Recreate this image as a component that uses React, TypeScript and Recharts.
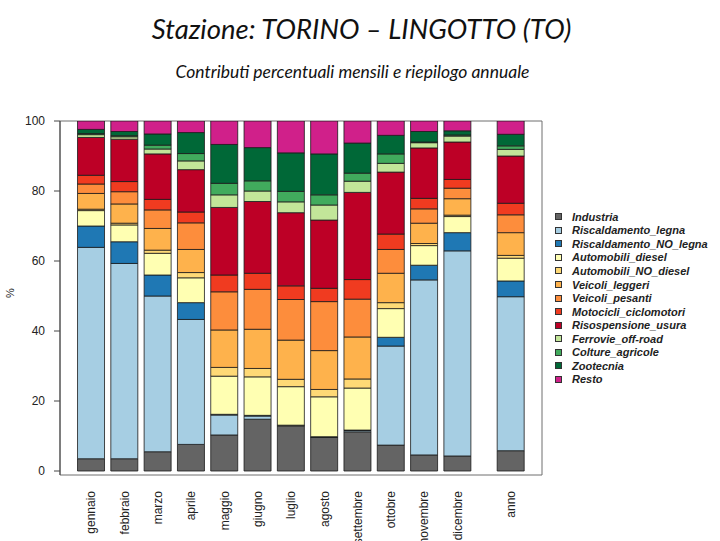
import { BarChart, Bar, XAxis, YAxis, Legend, ReferenceArea } from 'recharts';

const CATEGORIES = [
  'gennaio', 'febbraio', 'marzo', 'aprile', 'maggio', 'giugno', 'luglio',
  'agosto', 'settembre', 'ottobre', 'novembre', 'dicembre', 'anno',
];
// gap before each bar, in bar widths (R barplot "space")
const SPACES = [0.25, 0.25, 0.25, 0.25, 0.25, 0.25, 0.25, 0.25, 0.25, 0.25, 0.25, 0.25, 1];

const INDUSTRIA = [3.5, 3.5, 5.5, 7.6, 10.3, 14.8, 12.9, 9.6, 11.2, 7.4, 4.6, 4.3, 5.8];
const RISC_LEGNA = [60.4, 55.8, 44.5, 35.7, 5.7, 0.9, 0.1, 0.1, 0.4, 28.3, 50.0, 58.6, 44.0];
const RISC_NO_LEGNA = [6.1, 6.2, 6.0, 4.8, 0.2, 0.2, 0.1, 0.1, 0.1, 2.5, 4.2, 5.2, 4.5];
const AUTO_DIESEL = [4.4, 4.8, 6.2, 7.1, 10.9, 11.0, 11.0, 11.4, 12.0, 8.2, 5.6, 4.6, 6.5];
const AUTO_NO_DIESEL = [0.4, 0.5, 0.9, 1.5, 2.5, 2.4, 2.1, 2.1, 2.6, 1.7, 0.6, 0.4, 0.8];
const VEICOLI_LEGGERI = [4.5, 5.5, 6.2, 6.6, 10.7, 11.2, 11.2, 11.1, 12.0, 8.4, 5.8, 4.7, 6.5];
const VEICOLI_PESANTI = [2.7, 3.5, 5.3, 7.6, 10.9, 11.4, 11.6, 14.0, 10.8, 6.8, 4.1, 3.0, 5.1];
const MOTOCICLI = [2.5, 2.9, 3.0, 3.1, 4.8, 4.6, 3.9, 3.8, 5.6, 4.4, 3.0, 2.5, 3.3];
const RISOSPENSIONE = [10.8, 12.1, 13.0, 12.1, 19.3, 20.5, 20.9, 19.5, 24.9, 17.7, 14.4, 10.7, 13.5];
const FERROVIE = [0.8, 0.7, 1.4, 2.5, 3.6, 3.0, 3.1, 4.3, 3.2, 2.5, 1.5, 1.7, 1.9];
const COLTURE = [0.3, 0.3, 1.1, 2.1, 3.3, 2.9, 3.0, 2.9, 2.3, 2.7, 0.2, 0.3, 1.0];
const ZOOTECNIA = [1.2, 1.2, 3.2, 6.0, 11.1, 9.5, 11.0, 11.7, 8.6, 5.3, 3.0, 1.2, 3.3];
const RESTO = [2.4, 3.0, 3.7, 3.3, 6.7, 7.6, 9.1, 9.4, 6.4, 4.1, 3.0, 2.8, 3.8];

const Y_TICKS = [0, 20, 40, 60, 80, 100];

const SERIES = [
  { key: 'Industria', values: INDUSTRIA, color: '#646464' },
  { key: 'Riscaldamento_legna', values: RISC_LEGNA, color: '#a6cee3' },
  { key: 'Riscaldamento_NO_legna', values: RISC_NO_LEGNA, color: '#1f78b4' },
  { key: 'Automobili_diesel', values: AUTO_DIESEL, color: '#ffffb2' },
  { key: 'Automobili_NO_diesel', values: AUTO_NO_DIESEL, color: '#fed976' },
  { key: 'Veicoli_leggeri', values: VEICOLI_LEGGERI, color: '#feb24c' },
  { key: 'Veicoli_pesanti', values: VEICOLI_PESANTI, color: '#fd8d3c' },
  { key: 'Motocicli_ciclomotori', values: MOTOCICLI, color: '#f03b20' },
  { key: 'Risospensione_usura', values: RISOSPENSIONE, color: '#bd0026' },
  { key: 'Ferrovie_off-road', values: FERROVIE, color: '#c2e699' },
  { key: 'Colture_agricole', values: COLTURE, color: '#41ab5d' },
  { key: 'Zootecnia', values: ZOOTECNIA, color: '#006837' },
  { key: 'Resto', values: RESTO, color: '#d0208a' },
];

// bar centres along the x axis, as R's barplot lays them out
const POSITIONS: number[] = [];
{
  let edge = 0;
  SPACES.forEach((s) => {
    edge += s;
    POSITIONS.push(edge + 0.5);
    edge += 1;
  });
}

const data = CATEGORIES.map((cat, i) => {
  const row: Record<string, number | string> = { name: cat, pos: POSITIONS[i] };
  SERIES.forEach((s) => {
    row[s.key] = s.values[i];
  });
  return row;
});

const X_DOMAIN = [-0.42, 17.67];
const FONT = '"Liberation Sans", Arial, Helvetica, sans-serif';

function MonthTick({ x, y, payload }: { x?: number; y?: number; payload?: { value: number } }) {
  const idx = POSITIONS.indexOf(payload?.value as number);
  return (
    <text
      transform={`translate(${x},${(y ?? 0) + 8}) rotate(-90)`}
      textAnchor="end"
      dy="0.35em"
      fontSize={12}
      fill="#222"
      fontFamily={FONT}
    >
      {CATEGORIES[idx]}
    </text>
  );
}

function LegendBox({ payload }: { payload?: Array<{ value: string; color: string }> }) {
  // keep the stacking order (Industria on top), not the library's sorted order
  const byName = new Map((payload ?? []).map((p) => [p.value, p.color]));
  return (
    <div style={{ display: 'flex', flexDirection: 'column' }}>
      {SERIES.map((s) => (
        <div key={s.key} style={{ height: 13.56, display: 'flex', alignItems: 'center' }}>
          <span style={{
            width: 7,
            height: 7,
            boxSizing: 'border-box',
            background: byName.get(s.key) ?? s.color,
            border: '1px solid #333',
            marginRight: 10,
            flex: 'none',
          }} />
          <span style={{
            fontFamily: FONT,
            fontSize: 11,
            fontWeight: 700,
            fontStyle: 'italic',
            color: '#222',
            whiteSpace: 'nowrap',
          }}>
            {s.key}
          </span>
        </div>
      ))}
    </div>
  );
}

export default function App() {
  return (
    <div style={{ position: 'absolute', left: 0, top: 0, width: 720, height: 541, background: '#fff', overflow: 'hidden' }}>
      <div style={{
        position: 'absolute', left: 0, top: 12, width: 723, textAlign: 'center',
        fontFamily: 'Lato, "Open Sans", sans-serif', fontStyle: 'italic', fontSize: 27.5, color: '#111',
      }}>
        Stazione: TORINO – LINGOTTO (TO)
      </div>
      <div style={{
        position: 'absolute', left: 0, top: 61, width: 705, textAlign: 'center',
        fontFamily: 'Lato, "Open Sans", sans-serif', fontStyle: 'italic', fontSize: 17.5, color: '#111',
      }}>
        Contributi percentuali mensili e riepilogo annuale
      </div>
      <div style={{ position: 'absolute', left: 0, top: 0 }}>
        <BarChart
          width={720}
          height={541}
          data={data}
          margin={{ top: 121, right: 178, left: 0, bottom: 6 }}
        >
          <XAxis
            type="number"
            dataKey="pos"
            domain={X_DOMAIN}
            ticks={POSITIONS}
            interval={0}
            allowDataOverflow
            tick={<MonthTick />}
            tickLine={false}
            axisLine={false}
            height={60}
          />
          <YAxis
            type="number"
            domain={[-1.14, 100]}
            ticks={Y_TICKS}
            allowDataOverflow
            width={60}
            tickSize={6}
            tickMargin={9}
            stroke="#444"
            tick={{ fontSize: 12, fill: '#222', fontFamily: FONT }}
            label={{ value: '%', angle: -90, position: 'insideLeft', offset: 10, fontSize: 11, fill: '#222', fontFamily: FONT }}
          />
          {SERIES.map((s) => (
            <Bar
              key={s.key}
              dataKey={s.key}
              name={s.key}
              stackId="a"
              fill={s.color}
              stroke="#1a1a1a"
              strokeWidth={0.8}
              barSize={27}
              isAnimationActive={false}
            />
          ))}
          <ReferenceArea
            x1={X_DOMAIN[0]}
            x2={X_DOMAIN[1]}
            y1={-1.14}
            y2={100}
            fill="none"
            fillOpacity={0}
            stroke="#6e6e6e"
            strokeWidth={1}
          />
          <Legend
            layout="horizontal"
            verticalAlign="middle"
            align="center"
            content={<LegendBox />}
            wrapperStyle={{ position: 'absolute', left: 555, top: 210, width: 165 }}
          />
        </BarChart>
      </div>
    </div>
  );
}
